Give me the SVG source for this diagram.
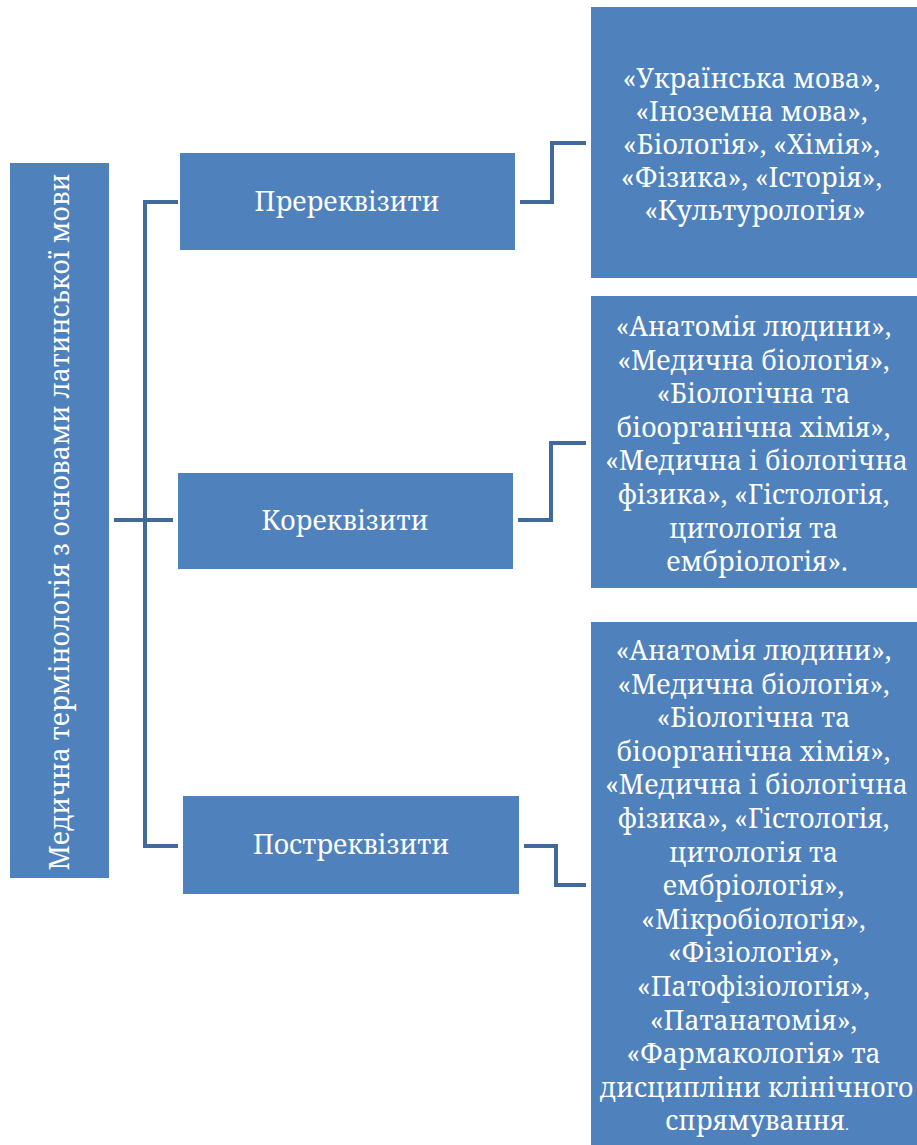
<svg xmlns="http://www.w3.org/2000/svg" width="917" height="1145" viewBox="0 0 917 1145">
<style>
.box{fill:#4f81bd}
.t{font-family:'Noto Serif','Liberation Serif','DejaVu Serif',serif;font-size:26.5px;fill:#ffffff;text-anchor:middle}
.c{fill:none;stroke:#41699c;stroke-width:4;stroke-linejoin:miter}
</style>
<rect x="0" y="0" width="917" height="1145" fill="#ffffff"/>
<g id="connectors">
<path class="c" d="M114,520 H173"/>
<path class="c" d="M178,202 H145 V846 H178"/>
<path class="c" d="M520,202 H552 V143 H586"/>
<path class="c" d="M518,520 H551 V443 H586"/>
<path class="c" d="M524,846 H556 V885 H586"/>
</g>
<g id="root">
<rect class="box" x="10" y="163" width="99" height="715"/>
<text class="t" transform="translate(69,522) rotate(-90)" x="0" y="0">Медична термінологія з основами латинської мови</text>
</g>
<g id="prereq">
<rect class="box" x="180" y="153" width="335" height="97"/>
<text class="t" x="347" y="211">Пререквізити</text>
</g>
<g id="coreq">
<rect class="box" x="178" y="473" width="335" height="96"/>
<text class="t" x="345" y="530">Кореквізити</text>
</g>
<g id="postreq">
<rect class="box" x="183" y="796" width="336" height="98"/>
<text class="t" x="351" y="854">Постреквізити</text>
</g>
<g id="prereq-list">
<rect class="box" x="591" y="7" width="326" height="271"/>
<text class="t">
<tspan x="755" y="88">«Українська мова»,</tspan>
<tspan x="755" y="121">«Іноземна мова»,</tspan>
<tspan x="755" y="154">«Біологія», «Хімія»,</tspan>
<tspan x="755" y="187">«Фізика», «Історія»,</tspan>
<tspan x="755" y="220">«Культурологія»</tspan>
</text>
</g>
<g id="coreq-list">
<rect class="box" x="591" y="296" width="326" height="292"/>
<text class="t">
<tspan x="757" y="336">«Анатомія людини»,</tspan>
<tspan x="757" y="370">«Медична біологія»,</tspan>
<tspan x="757" y="403">«Біологічна та</tspan>
<tspan x="757" y="437">біоорганічна хімія»,</tspan>
<tspan x="760" y="470">«Медична і біологічна</tspan>
<tspan x="757" y="504">фізика», «Гістологія,</tspan>
<tspan x="757" y="538">цитологія та</tspan>
<tspan x="757" y="571">ембріологія».</tspan>
</text>
</g>
<g id="postreq-list">
<rect class="box" x="591" y="622" width="326" height="523"/>
<text class="t">
<tspan x="757" y="660">«Анатомія людини»,</tspan>
<tspan x="757" y="694">«Медична біологія»,</tspan>
<tspan x="757" y="727">«Біологічна та</tspan>
<tspan x="757" y="761">біоорганічна хімія»,</tspan>
<tspan x="760" y="794">«Медична і біологічна</tspan>
<tspan x="757" y="828">фізика», «Гістологія,</tspan>
<tspan x="757" y="862">цитологія та</tspan>
<tspan x="757" y="895">ембріологія»,</tspan>
<tspan x="757" y="929">«Мікробіологія»,</tspan>
<tspan x="757" y="962">«Фізіологія»,</tspan>
<tspan x="757" y="996">«Патофізіологія»,</tspan>
<tspan x="757" y="1030">«Патанатомія»,</tspan>
<tspan x="757" y="1063">«Фармакологія» та</tspan>
<tspan x="760" y="1097">дисципліни клінічного</tspan>
<tspan x="757" y="1130">спрямування<tspan font-size="14px">.</tspan></tspan>
</text>
</g>
</svg>
